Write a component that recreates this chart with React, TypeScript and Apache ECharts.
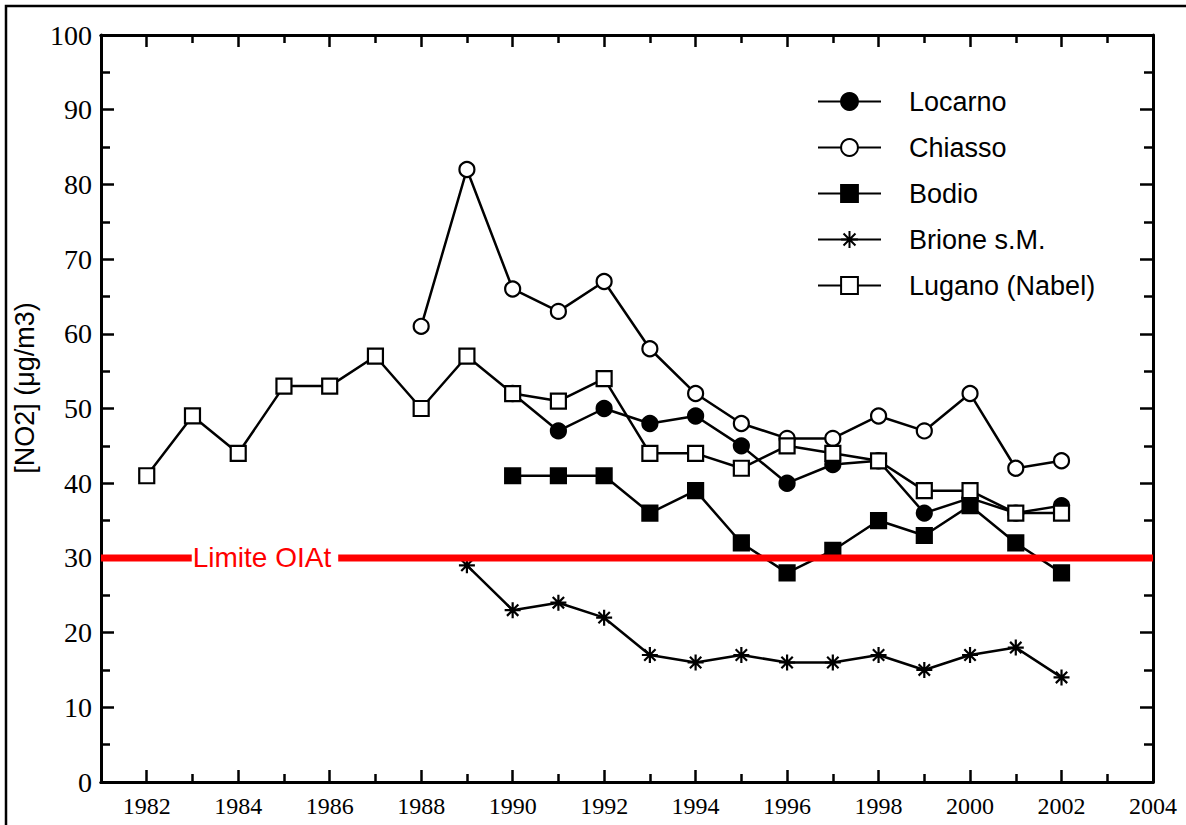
import React, { useEffect, useRef } from "react";
import * as echarts from "echarts";

// Annual mean NO2 concentrations, 1982–2002 (null = no measurement)
const years = [
  1982, 1983, 1984, 1985, 1986, 1987, 1988, 1989, 1990, 1991, 1992,
  1993, 1994, 1995, 1996, 1997, 1998, 1999, 2000, 2001, 2002,
];
const locarno = [null, null, null, null, null, null, null, null, 52, 47, 50, 48, 49, 45, 40, 42.5, 43, 36, 38, 36, 37];
const chiasso = [null, null, null, null, null, null, 61, 82, 66, 63, 67, 58, 52, 48, 46, 46, 49, 47, 52, 42, 43];
const bodio = [null, null, null, null, null, null, null, null, 41, 41, 41, 36, 39, 32, 28, 31, 35, 33, 37, 32, 28];
const brione = [null, null, null, null, null, null, null, 29, 23, 24, 22, 17, 16, 17, 16, 16, 17, 15, 17, 18, 14];
const lugano = [41, 49, 44, 53, 53, 57, 50, 57, 52, 51, 54, 44, 44, 42, 45, 44, 43, 39, 39, 36, 36];

const limitValue = 30;
const limitLabel = "Limite OIAt";
const limitLabelYear = 1984.585;

const xMin = 1981;
const xMax = 2004;
const evenYears = [1982, 1984, 1986, 1988, 1990, 1992, 1994, 1996, 1998, 2000, 2002, 2004];
const oddYears = [1983, 1985, 1987, 1989, 1991, 1993, 1995, 1997, 1999, 2001, 2003];

const legendOrder = ["Locarno", "Chiasso", "Bodio", "Brione s.M.", "Lugano (Nabel)"];

const SERIF = "'Liberation Serif', 'Times New Roman', serif";
const SANS = "'Liberation Sans', Arial, sans-serif";

const asterisk =
  "path://M10 0 L10 20 M0 10 L20 10 M2.9 2.9 L17.1 17.1 M17.1 2.9 L2.9 17.1";

const toPairs = (vals: (number | null)[]) =>
  years.map((y, i) => [y, vals[i]]).filter((p) => p[1] !== null);

const axisLineStyle = { color: "#000", width: 3 };
const tickLineStyle = { color: "#000", width: 2.5 };

function makeXAxis(position: "top" | "bottom", ticks: number[], long: boolean, labels: boolean) {
  return {
    type: "value",
    position,
    min: xMin,
    max: xMax,
    splitLine: { show: false },
    axisLine: { show: true, onZero: false, lineStyle: axisLineStyle },
    axisTick: {
      show: true,
      inside: true,
      length: long ? 12 : 8,
      customValues: ticks,
      lineStyle: tickLineStyle,
    },
    axisLabel: labels
      ? {
          show: true,
          customValues: ticks,
          formatter: (v: number) => String(v),
          color: "#000",
          fontFamily: SERIF,
          fontSize: 24,
          margin: 12,
        }
      : { show: false },
  };
}

function makeYAxis(position: "left" | "right", labels: boolean) {
  return {
    type: "value",
    position,
    min: 0,
    max: 100,
    interval: 10,
    splitLine: { show: false },
    axisLine: { show: true, onZero: false, lineStyle: axisLineStyle },
    axisTick: { show: true, inside: true, length: 13, lineStyle: tickLineStyle },
    minorTick: { show: true, splitNumber: 2, length: 9, lineStyle: tickLineStyle },
    minorSplitLine: { show: false },
    axisLabel: labels
      ? { show: true, color: "#000", fontFamily: SERIF, fontSize: 28, margin: 9 }
      : { show: false },
  };
}

function stationSeries(
  name: string,
  vals: (number | null)[],
  symbol: string,
  fill: string,
  size: number,
  z: number
) {
  return {
    name,
    type: "line",
    data: toPairs(vals),
    z,
    symbol,
    symbolSize: size,
    showAllSymbol: true,
    lineStyle: { color: "#000", width: 2.5 },
    itemStyle: { color: fill, borderColor: "#000", borderWidth: 2.2 },
    emphasis: { disabled: true },
  };
}

export default function App() {
  const ref = useRef<HTMLDivElement>(null);

  useEffect(() => {
    if (!ref.current) return;
    const chart = echarts.init(ref.current, undefined, { renderer: "svg" });

    chart.setOption({
      animation: false,
      backgroundColor: "#fff",
      grid: { left: 101, right: 33, top: 35, bottom: 43, containLabel: false },
      xAxis: [
        makeXAxis("bottom", evenYears, true, true),
        makeXAxis("bottom", oddYears, false, false),
        makeXAxis("top", evenYears, true, false),
        makeXAxis("top", oddYears, false, false),
      ],
      yAxis: [makeYAxis("left", true), makeYAxis("right", false)],
      legend: {
        data: legendOrder,
        orient: "vertical",
        left: 817,
        top: 88,
        padding: 0,
        itemWidth: 63,
        itemHeight: 21,
        itemGap: 19,
        selectedMode: false,
        textStyle: {
          color: "#000",
          fontFamily: SANS,
          fontSize: 27,
          padding: [0, 0, 0, 23],
        },
      },
      series: [
        stationSeries("Locarno", locarno, "circle", "#000", 15, 2),
        stationSeries("Chiasso", chiasso, "circle", "#fff", 15, 3),
        stationSeries("Lugano (Nabel)", lugano, "rect", "#fff", 15, 4),
        stationSeries("Bodio", bodio, "rect", "#000", 15, 5),
        stationSeries("Brione s.M.", brione, asterisk, "#000", 16, 6),
        {
          name: "limit",
          type: "line",
          data: [
            [xMin, limitValue],
            [xMax, limitValue],
          ],
          symbol: "none",
          z: 10,
          lineStyle: { color: "#ff0000", width: 7 },
          emphasis: { disabled: true },
        },
        {
          name: "limitLabel",
          type: "scatter",
          data: [[limitLabelYear, limitValue]],
          symbolSize: 1,
          z: 11,
          itemStyle: { color: "#fff", opacity: 1 },
          label: {
            show: true,
            position: "inside",
            formatter: limitLabel,
            color: "#ff0000",
            opacity: 1,
            textBorderWidth: 0,
            fontFamily: SANS,
            fontSize: 28,
            backgroundColor: "#fff",
            padding: [2, 7, 2, 1],
          },
          emphasis: { disabled: true },
        },
      ],
      graphic: [
        {
          type: "rect",
          silent: true,
          shape: { x: 6, y: 6, width: 1300, height: 900 },
          style: { fill: "none", stroke: "#000", lineWidth: 2.5 },
        },
        {
          type: "text",
          silent: true,
          x: 25,
          y: 388,
          rotation: Math.PI / 2,
          style: {
            text: "[NO2] (μg/m3)",
            fill: "#000",
            fontFamily: SANS,
            fontSize: 27,
            align: "center",
            verticalAlign: "middle",
          },
        },
      ],
    });

    return () => chart.dispose();
  }, []);

  return (
    <div
      ref={ref}
      style={{ position: "absolute", left: 0, top: 0, width: 1186, height: 825 }}
    />
  );
}
